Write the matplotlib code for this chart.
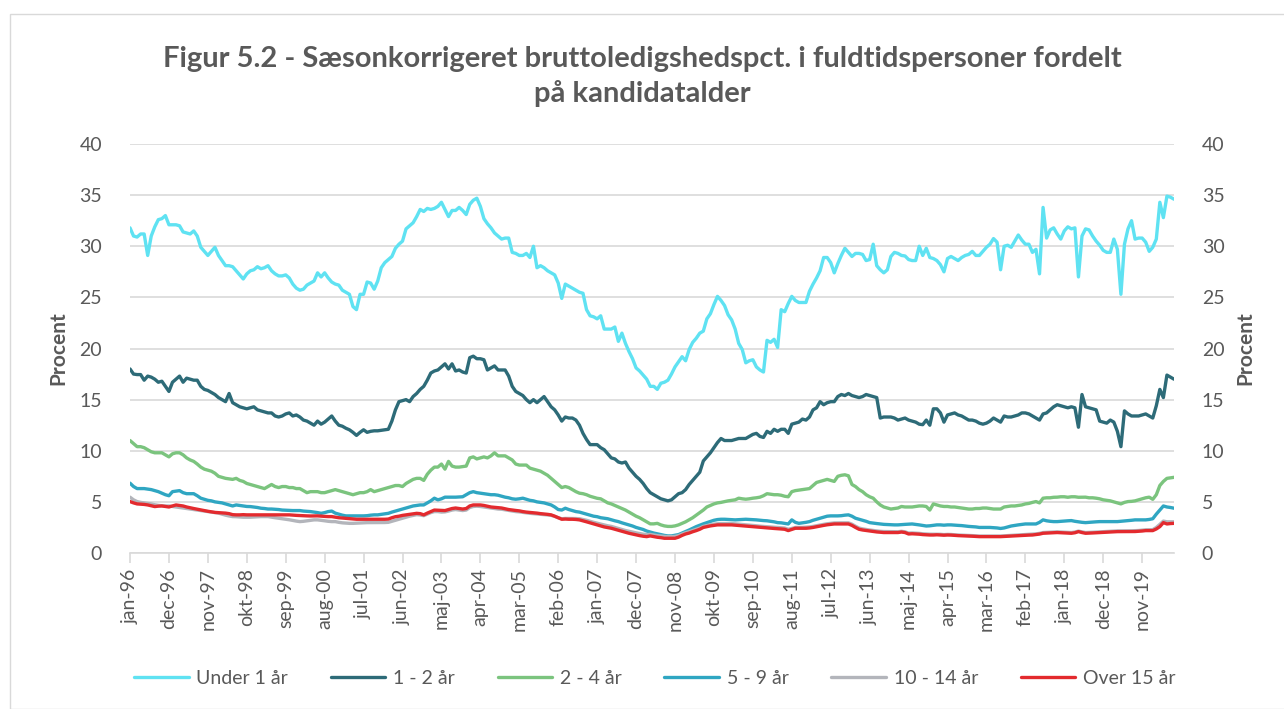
import matplotlib
matplotlib.use("Agg")
import matplotlib.pyplot as plt
from matplotlib.patches import Rectangle

plt.rcParams['font.family'] = ['Lato', 'DejaVu Sans']

# monthly values, jan-96 .. aug-20
under_1 = [
    31.8, 31.0, 30.9, 31.2, 31.2, 29.1, 31.0, 31.9, 32.6, 32.7, 33.0, 32.1, 32.1, 32.1, 32.0, 31.4,
    31.3, 31.2, 31.5, 31.0, 29.9, 29.5, 29.1, 29.5, 29.9, 29.1, 28.6, 28.1, 28.1, 28.0, 27.6, 27.2,
    26.8, 27.3, 27.6, 27.7, 28.0, 27.8, 27.9, 28.1, 27.6, 27.3, 27.1, 27.1, 27.2, 26.9, 26.3, 25.9,
    25.7, 25.8, 26.2, 26.4, 26.6, 27.4, 27.0, 27.4, 26.9, 26.5, 26.3, 26.2, 25.7, 25.5, 25.3, 24.1,
    23.8, 25.3, 25.3, 26.5, 26.4, 25.8, 26.6, 27.9, 28.4, 28.7, 29.0, 29.8, 30.2, 30.5, 31.7, 32.0,
    32.3, 32.9, 33.6, 33.4, 33.7, 33.6, 33.7, 33.9, 34.3, 33.6, 32.9, 33.5, 33.5, 33.8, 33.5, 33.1,
    34.1, 34.5, 34.7, 33.9, 32.7, 32.2, 31.8, 31.3, 31.0, 30.7, 30.8, 30.8, 29.4, 29.3, 29.1, 29.1,
    29.3, 28.9, 30.0, 27.9, 28.1, 27.9, 27.6, 27.4, 27.2, 26.4, 24.9, 26.3, 26.1, 25.9, 25.7, 25.5,
    25.4, 23.8, 23.2, 23.1, 22.9, 23.2, 21.9, 21.9, 21.9, 22.1, 20.7, 21.5, 20.5, 19.7, 19.0, 18.1,
    17.8, 17.4, 17.0, 16.3, 16.3, 16.0, 16.6, 16.7, 16.9, 17.5, 18.2, 18.7, 19.2, 18.8, 19.9, 20.6,
    21.0, 21.5, 21.7, 22.9, 23.4, 24.3, 25.1, 24.7, 24.2, 23.3, 22.8, 21.9, 20.5, 19.9, 18.6, 18.8,
    18.9, 18.2, 17.9, 17.7, 20.8, 20.6, 20.9, 20.1, 23.8, 23.6, 24.4, 25.1, 24.7, 24.5, 24.5, 24.5,
    25.6, 26.3, 26.9, 27.6, 28.9, 28.9, 28.4, 27.4, 28.3, 29.1, 29.8, 29.4, 29.0, 29.3, 29.3, 29.2,
    28.6, 28.7, 30.2, 28.1, 27.7, 27.4, 27.7, 29.0, 29.4, 29.3, 29.1, 29.05, 28.7, 28.6, 28.6, 30.0,
    29.1, 29.8, 28.9, 28.8, 28.6, 28.2, 27.5, 28.8, 29.0, 28.8, 28.6, 28.9, 29.1, 29.2, 29.5, 29.1,
    29.1, 29.5, 29.9, 30.2, 30.75, 30.4, 27.7, 30.0, 30.1, 29.9, 30.5, 31.1, 30.6, 30.2, 30.2, 29.4,
    29.7, 27.3, 33.8, 30.8, 31.6, 31.8, 31.2, 30.7, 31.5, 31.9, 31.7, 31.8, 27.0, 31.0, 31.7, 31.6,
    31.0, 30.5, 30.1, 29.6, 29.4, 29.4, 30.7, 29.7, 25.3, 30.2, 31.7, 32.5, 30.7, 30.8, 30.8, 30.4,
    29.5, 29.9, 30.7, 34.3, 32.8, 34.9, 34.8, 34.6,
]

aar_1_2 = [
    18.0, 17.5, 17.45, 17.45, 16.9, 17.3, 17.2, 17.0, 16.7, 16.8, 16.3, 15.8, 16.7, 17.0, 17.3, 16.7,
    17.1, 17.0, 16.9, 16.9, 16.3, 16.0, 15.9, 15.7, 15.5, 15.2, 15.0, 14.8, 15.6, 14.7, 14.5, 14.3,
    14.2, 14.1, 14.2, 14.3, 14.0, 13.9, 13.8, 13.7, 13.7, 13.4, 13.3, 13.4, 13.6, 13.7, 13.4, 13.5,
    13.3, 13.0, 12.9, 12.7, 12.5, 12.9, 12.6, 12.8, 13.1, 13.4, 12.9, 12.5, 12.4, 12.2, 12.05, 11.8,
    11.5, 11.8, 12.05, 11.8, 11.9, 11.95, 11.95, 12.0, 12.05, 12.1, 12.9, 14.0, 14.8, 14.9, 15.0, 14.8,
    15.3, 15.6, 16.0, 16.3, 16.9, 17.6, 17.8, 17.9, 18.2, 18.5, 18.0, 18.5, 17.8, 17.9, 17.7, 17.6,
    19.1, 19.25, 19.0, 19.0, 18.9, 17.9, 18.1, 18.3, 17.9, 17.9, 17.9, 17.3, 16.3, 15.8, 15.6, 15.4,
    15.0, 14.7, 15.0, 14.7, 15.0, 15.3, 14.8, 14.3, 14.0, 13.5, 12.9, 13.3, 13.2, 13.2, 13.0, 12.5,
    11.7, 11.1, 10.6, 10.6, 10.6, 10.3, 10.1, 9.7, 9.3, 9.2, 8.9, 8.8, 8.9, 8.3, 7.9, 7.5,
    7.2, 6.8, 6.3, 5.9, 5.7, 5.5, 5.3, 5.2, 5.1, 5.2, 5.5, 5.8, 5.9, 6.2, 6.7, 7.1,
    7.5, 7.9, 9.0, 9.4, 9.8, 10.3, 10.8, 11.2, 11.0, 11.0, 11.0, 11.1, 11.2, 11.2, 11.2, 11.4,
    11.6, 11.7, 11.4, 11.3, 11.9, 11.7, 12.1, 11.9, 12.1, 12.1, 11.7, 12.6, 12.7, 12.8, 13.1, 13.0,
    13.3, 14.0, 14.2, 14.8, 14.5, 14.7, 14.8, 14.8, 15.3, 15.5, 15.4, 15.6, 15.4, 15.3, 15.2, 15.3,
    15.5, 15.4, 15.3, 15.2, 13.2, 13.3, 13.3, 13.3, 13.2, 13.0, 13.1, 13.2, 13.0, 12.9, 12.8, 12.6,
    12.55, 13.0, 12.5, 14.1, 14.1, 13.7, 12.8, 13.5, 13.6, 13.7, 13.5, 13.4, 13.2, 13.0, 13.0, 12.9,
    12.7, 12.6, 12.7, 12.9, 13.2, 13.0, 12.8, 13.4, 13.3, 13.3, 13.4, 13.5, 13.7, 13.7, 13.6, 13.4,
    13.2, 13.0, 13.6, 13.7, 14.0, 14.3, 14.5, 14.4, 14.3, 14.2, 14.3, 14.2, 12.3, 15.5, 14.3, 14.2,
    14.1, 14.0, 12.9, 12.8, 12.7, 13.0, 12.8, 11.9, 10.4, 13.9, 13.6, 13.4, 13.4, 13.4, 13.5, 13.6,
    13.4, 13.2, 14.4, 16.0, 15.2, 17.4, 17.2, 17.0,
]

aar_2_4 = [
    11.0, 10.7, 10.4, 10.4, 10.3, 10.1, 9.9, 9.8, 9.8, 9.8, 9.6, 9.4, 9.7, 9.8, 9.8, 9.6,
    9.3, 9.1, 8.96, 8.7, 8.4, 8.2, 8.1, 8.0, 7.8, 7.5, 7.4, 7.3, 7.25, 7.2, 7.3, 7.1,
    7.0, 6.8, 6.7, 6.6, 6.5, 6.4, 6.3, 6.5, 6.7, 6.5, 6.4, 6.5, 6.5, 6.4, 6.4, 6.3,
    6.3, 6.1, 5.9, 6.0, 6.0, 6.0, 5.9, 5.9, 6.0, 6.1, 6.2, 6.1, 6.0, 5.9, 5.8, 5.7,
    5.8, 5.9, 5.9, 6.0, 6.2, 6.0, 6.1, 6.2, 6.3, 6.4, 6.5, 6.6, 6.6, 6.5, 6.8, 7.0,
    7.2, 7.3, 7.3, 7.1, 7.7, 8.1, 8.4, 8.4, 8.7, 8.2, 8.96, 8.5, 8.4, 8.4, 8.45, 8.5,
    9.3, 9.4, 9.2, 9.3, 9.4, 9.3, 9.5, 9.8, 9.5, 9.5, 9.5, 9.3, 9.1, 8.7, 8.6, 8.6,
    8.6, 8.3, 8.2, 8.1, 8.0, 7.8, 7.6, 7.3, 7.0, 6.7, 6.4, 6.5, 6.4, 6.2, 6.0, 5.85,
    5.8, 5.7, 5.55, 5.45, 5.35, 5.3, 5.1, 4.9, 4.8, 4.65, 4.5, 4.35, 4.2, 4.0, 3.8, 3.6,
    3.45, 3.25, 3.05, 2.85, 2.85, 2.9, 2.75, 2.65, 2.6, 2.6, 2.65, 2.75, 2.9, 3.05, 3.25, 3.45,
    3.7, 3.95, 4.2, 4.5, 4.65, 4.8, 4.9, 4.95, 5.03, 5.1, 5.15, 5.2, 5.36, 5.3, 5.26, 5.3,
    5.36, 5.4, 5.46, 5.6, 5.8, 5.75, 5.7, 5.7, 5.65, 5.55, 5.5, 6.0, 6.1, 6.15, 6.2, 6.25,
    6.3, 6.6, 6.9, 7.0, 7.1, 7.2, 7.1, 7.0, 7.5, 7.6, 7.65, 7.55, 6.7, 6.5, 6.2, 6.0,
    5.7, 5.5, 5.36, 5.0, 4.7, 4.5, 4.4, 4.3, 4.35, 4.4, 4.55, 4.5, 4.5, 4.5, 4.55, 4.6,
    4.6, 4.55, 4.2, 4.8, 4.7, 4.6, 4.55, 4.55, 4.5, 4.5, 4.45, 4.4, 4.35, 4.3, 4.3, 4.35,
    4.35, 4.4, 4.4, 4.35, 4.3, 4.3, 4.3, 4.5, 4.55, 4.6, 4.6, 4.65, 4.7, 4.8, 4.85, 4.95,
    5.03, 4.9, 5.36, 5.4, 5.4, 5.45, 5.46, 5.5, 5.5, 5.45, 5.5, 5.5, 5.45, 5.45, 5.46, 5.4,
    5.4, 5.36, 5.3, 5.2, 5.15, 5.1, 5.0, 4.9, 4.8, 4.95, 5.03, 5.05, 5.1, 5.2, 5.3, 5.4,
    5.46, 5.25, 5.7, 6.6, 7.0, 7.3, 7.35, 7.4,
]

aar_5_9 = [
    6.83, 6.5, 6.3, 6.3, 6.3, 6.25, 6.2, 6.1, 6.0, 5.85, 5.7, 5.6, 6.0, 6.05, 6.1, 5.9,
    5.8, 5.8, 5.8, 5.6, 5.36, 5.25, 5.15, 5.1, 5.0, 4.95, 4.9, 4.8, 4.7, 4.6, 4.7, 4.65,
    4.6, 4.55, 4.54, 4.5, 4.45, 4.38, 4.35, 4.3, 4.3, 4.28, 4.25, 4.2, 4.18, 4.15, 4.15, 4.15,
    4.15, 4.1, 4.08, 4.05, 4.0, 3.95, 3.88, 3.95, 4.05, 4.1, 3.9, 3.8, 3.7, 3.63, 3.63, 3.63,
    3.63, 3.63, 3.63, 3.65, 3.7, 3.73, 3.73, 3.78, 3.82, 3.88, 4.0, 4.1, 4.2, 4.3, 4.4, 4.5,
    4.6, 4.65, 4.7, 4.7, 4.9, 5.1, 5.36, 5.2, 5.3, 5.46, 5.46, 5.46, 5.46, 5.48, 5.5, 5.7,
    5.9, 6.0, 5.9, 5.85, 5.8, 5.75, 5.7, 5.7, 5.65, 5.55, 5.46, 5.4, 5.3, 5.26, 5.3, 5.36,
    5.25, 5.15, 5.1, 5.0, 4.95, 4.9, 4.8, 4.7, 4.5, 4.25, 4.2, 4.38, 4.25, 4.15, 4.05, 4.0,
    3.9, 3.8, 3.7, 3.6, 3.55, 3.45, 3.4, 3.35, 3.25, 3.15, 3.07, 2.95, 2.85, 2.75, 2.64, 2.5,
    2.4, 2.3, 2.15, 2.05, 1.95, 1.88, 1.8, 1.72, 1.67, 1.67, 1.74, 1.8, 1.95, 2.09, 2.25, 2.42,
    2.58, 2.72, 2.85, 2.97, 3.1, 3.2, 3.27, 3.3, 3.3, 3.28, 3.25, 3.24, 3.26, 3.28, 3.3, 3.28,
    3.26, 3.24, 3.2, 3.17, 3.15, 3.1, 3.05, 2.97, 2.95, 2.9, 2.84, 3.24, 3.0, 2.9, 2.95, 3.0,
    3.07, 3.2, 3.3, 3.4, 3.5, 3.6, 3.63, 3.63, 3.63, 3.65, 3.7, 3.73, 3.6, 3.4, 3.3, 3.2,
    3.1, 2.97, 2.92, 2.88, 2.84, 2.8, 2.78, 2.75, 2.75, 2.75, 2.78, 2.8, 2.82, 2.84, 2.8, 2.75,
    2.7, 2.64, 2.66, 2.7, 2.75, 2.75, 2.72, 2.75, 2.75, 2.72, 2.7, 2.68, 2.64, 2.6, 2.58, 2.55,
    2.5, 2.5, 2.5, 2.5, 2.48, 2.45, 2.4, 2.45, 2.55, 2.64, 2.7, 2.75, 2.8, 2.84, 2.84, 2.84,
    2.84, 3.0, 3.24, 3.15, 3.1, 3.07, 3.07, 3.1, 3.12, 3.15, 3.17, 3.1, 3.05, 3.0, 2.97, 3.0,
    3.02, 3.05, 3.07, 3.07, 3.07, 3.07, 3.07, 3.07, 3.1, 3.12, 3.15, 3.2, 3.24, 3.24, 3.24, 3.24,
    3.28, 3.35, 3.8, 4.2, 4.6, 4.5, 4.45, 4.38,
]

aar_10_14 = [
    5.46, 5.2, 5.03, 4.95, 4.9, 4.85, 4.8, 4.72, 4.66, 4.62, 4.6, 4.6, 4.55, 4.5, 4.45, 4.4,
    4.35, 4.3, 4.25, 4.2, 4.15, 4.1, 4.05, 4.0, 3.95, 3.9, 3.8, 3.7, 3.62, 3.56, 3.55, 3.52,
    3.5, 3.5, 3.5, 3.52, 3.55, 3.56, 3.56, 3.56, 3.5, 3.45, 3.4, 3.35, 3.3, 3.25, 3.18, 3.12,
    3.07, 3.1, 3.15, 3.2, 3.24, 3.24, 3.2, 3.15, 3.1, 3.07, 3.07, 3.0, 2.95, 2.92, 2.9, 2.9,
    2.92, 2.95, 2.97, 2.97, 2.97, 2.97, 2.97, 2.97, 2.98, 3.0, 3.1, 3.2, 3.3, 3.4, 3.5, 3.6,
    3.68, 3.75, 3.72, 3.65, 3.8, 3.95, 4.05, 4.05, 4.0, 4.02, 4.1, 4.2, 4.25, 4.2, 4.15, 4.2,
    4.45, 4.55, 4.58, 4.55, 4.5, 4.45, 4.4, 4.35, 4.3, 4.28, 4.22, 4.15, 4.1, 4.05, 4.02, 3.97,
    3.92, 3.88, 3.85, 3.82, 3.78, 3.75, 3.72, 3.68, 3.58, 3.45, 3.35, 3.38, 3.38, 3.38, 3.37, 3.35,
    3.28, 3.2, 3.1, 3.0, 2.92, 2.83, 2.74, 2.66, 2.6, 2.5, 2.4, 2.3, 2.2, 2.12, 2.04, 1.97,
    1.9, 1.84, 1.8, 1.82, 1.76, 1.7, 1.66, 1.62, 1.6, 1.6, 1.62, 1.7, 1.85, 1.98, 2.08, 2.2,
    2.32, 2.44, 2.6, 2.68, 2.76, 2.82, 2.86, 2.88, 2.88, 2.88, 2.88, 2.85, 2.83, 2.8, 2.77, 2.73,
    2.7, 2.66, 2.62, 2.6, 2.57, 2.54, 2.52, 2.5, 2.47, 2.44, 2.32, 2.4, 2.5, 2.5, 2.5, 2.52,
    2.55, 2.6, 2.67, 2.74, 2.8, 2.86, 2.9, 2.94, 2.95, 2.95, 2.95, 2.95, 2.82, 2.62, 2.44, 2.36,
    2.3, 2.25, 2.2, 2.16, 2.12, 2.1, 2.1, 2.09, 2.08, 2.08, 2.12, 2.07, 1.95, 1.96, 1.94, 1.92,
    1.88, 1.86, 1.84, 1.84, 1.85, 1.83, 1.8, 1.82, 1.81, 1.78, 1.76, 1.74, 1.73, 1.72, 1.7, 1.68,
    1.66, 1.66, 1.66, 1.66, 1.66, 1.66, 1.66, 1.68, 1.7, 1.72, 1.73, 1.76, 1.78, 1.8, 1.82, 1.83,
    1.87, 1.92, 2.0, 2.02, 2.04, 2.07, 2.07, 2.05, 2.03, 2.01, 2.0, 2.05, 2.14, 2.07, 2.0, 2.01,
    2.03, 2.05, 2.07, 2.09, 2.11, 2.13, 2.15, 2.16, 2.16, 2.16, 2.17, 2.17, 2.18, 2.2, 2.23, 2.27,
    2.27, 2.28, 2.5, 2.8, 3.12, 3.05, 3.05, 3.05,
]

over_15 = [
    5.03, 4.9, 4.8, 4.78, 4.75, 4.7, 4.62, 4.54, 4.58, 4.6, 4.55, 4.5, 4.6, 4.7, 4.65, 4.6,
    4.5, 4.42, 4.35, 4.28, 4.2, 4.15, 4.08, 4.02, 3.97, 3.95, 3.92, 3.9, 3.85, 3.75, 3.73, 3.73,
    3.75, 3.73, 3.73, 3.73, 3.72, 3.74, 3.73, 3.73, 3.72, 3.73, 3.74, 3.73, 3.72, 3.73, 3.7, 3.68,
    3.66, 3.63, 3.63, 3.62, 3.63, 3.63, 3.6, 3.58, 3.56, 3.56, 3.5, 3.45, 3.42, 3.4, 3.36, 3.32,
    3.3, 3.3, 3.3, 3.3, 3.3, 3.3, 3.3, 3.31, 3.3, 3.32, 3.45, 3.55, 3.6, 3.68, 3.73, 3.78,
    3.82, 3.88, 3.85, 3.73, 3.9, 4.05, 4.2, 4.18, 4.15, 4.15, 4.25, 4.35, 4.4, 4.35, 4.3, 4.35,
    4.6, 4.7, 4.7, 4.7, 4.65, 4.58, 4.5, 4.47, 4.43, 4.4, 4.32, 4.25, 4.2, 4.16, 4.12, 4.05,
    4.0, 3.97, 3.93, 3.9, 3.85, 3.82, 3.78, 3.73, 3.6, 3.45, 3.3, 3.32, 3.3, 3.3, 3.28, 3.24,
    3.15, 3.05, 2.95, 2.84, 2.75, 2.65, 2.55, 2.48, 2.42, 2.32, 2.22, 2.12, 2.02, 1.93, 1.85, 1.78,
    1.7, 1.64, 1.6, 1.67, 1.6, 1.54, 1.5, 1.44, 1.44, 1.44, 1.44, 1.55, 1.72, 1.86, 1.95, 2.08,
    2.19, 2.32, 2.5, 2.58, 2.65, 2.7, 2.75, 2.75, 2.75, 2.75, 2.75, 2.72, 2.7, 2.67, 2.64, 2.6,
    2.57, 2.53, 2.5, 2.48, 2.45, 2.42, 2.4, 2.38, 2.35, 2.32, 2.19, 2.3, 2.42, 2.42, 2.42, 2.42,
    2.45, 2.5, 2.57, 2.64, 2.7, 2.76, 2.8, 2.84, 2.84, 2.84, 2.84, 2.84, 2.7, 2.5, 2.32, 2.25,
    2.2, 2.15, 2.09, 2.06, 2.03, 2.0, 2.0, 2.0, 2.0, 2.0, 2.05, 2.0, 1.86, 1.88, 1.86, 1.84,
    1.8, 1.78, 1.76, 1.76, 1.78, 1.76, 1.74, 1.76, 1.75, 1.72, 1.7, 1.68, 1.67, 1.66, 1.64, 1.62,
    1.6, 1.6, 1.6, 1.6, 1.6, 1.6, 1.6, 1.62, 1.64, 1.66, 1.67, 1.7, 1.72, 1.74, 1.75, 1.76,
    1.8, 1.85, 1.93, 1.95, 1.97, 2.0, 2.0, 1.98, 1.96, 1.94, 1.93, 1.98, 2.09, 2.0, 1.93, 1.94,
    1.96, 1.98, 2.0, 2.02, 2.04, 2.06, 2.08, 2.09, 2.09, 2.09, 2.09, 2.09, 2.1, 2.12, 2.15, 2.19,
    2.19, 2.19, 2.35, 2.58, 2.97, 2.84, 2.88, 2.9,
]

tick_labels = [
    "jan-96", "dec-96", "nov-97", "okt-98", "sep-99", "aug-00", "jul-01", "jun-02", "maj-03",
    "apr-04", "mar-05", "feb-06", "jan-07", "dec-07", "nov-08", "okt-09", "sep-10", "aug-11",
    "jul-12", "jun-13", "maj-14", "apr-15", "mar-16", "feb-17", "jan-18", "dec-18", "nov-19",
]

series = [
    ("Under 1 år", under_1, "#5FE2F2"),
    ("1 - 2 år", aar_1_2, "#2D6B78"),
    ("2 - 4 år", aar_2_4, "#7BC47E"),
    ("5 - 9 år", aar_5_9, "#2FA6C2"),
    ("10 - 14 år", aar_10_14, "#B3B5BB"),
    ("Over 15 år", over_15, "#E32A2E"),
]

txt = "#595959"
grid_col = "#D9D9D9"

fig = plt.figure(figsize=(12.84, 7.09), dpi=100)
fig.patches.append(Rectangle((10 / 1284, 0.0), 1.0, 1 - 14 / 709, transform=fig.transFigure,
                             fill=False, edgecolor=grid_col, linewidth=1))

ax = fig.add_axes([130 / 1284, 1 - 553 / 709, (1174 - 130) / 1284, (553 - 144) / 709])
n = len(under_1)
x = list(range(n))
for name, vals, col in series:
    ax.plot(x, vals, color=col, linewidth=2.4, label=name, solid_capstyle="round")

ax.set_xlim(0, n - 1)
ax.set_ylim(0, 40)
ax.set_yticks(range(0, 41, 5))
ax.grid(axis="y", color=grid_col, linewidth=1.2)
ax.set_axisbelow(True)
for s in ["top", "right", "left"]:
    ax.spines[s].set_visible(False)
ax.spines["bottom"].set_color(grid_col)
ax.spines["bottom"].set_linewidth(1.2)

ax.set_xticks(range(0, n, 11))
ax.set_xticklabels(tick_labels, rotation=90)
ax.tick_params(axis="x", length=7, color=grid_col, width=1.2, labelsize=14, labelcolor=txt, pad=4)
ax.tick_params(axis="y", length=0, labelsize=14, labelcolor=txt, pad=20)

ax2 = ax.twinx()
ax2.set_ylim(0, 40)
ax2.set_yticks(range(0, 41, 5))
for s in ["top", "right", "left", "bottom"]:
    ax2.spines[s].set_visible(False)
ax2.tick_params(axis="y", length=0, labelsize=14, labelcolor=txt, pad=20)

ax.set_ylabel("Procent", fontsize=15, fontweight="bold", color=txt, labelpad=8)
ax2.set_ylabel("Procent", fontsize=15, fontweight="bold", color=txt, labelpad=8)

fig.suptitle("Figur 5.2 - Sæsonkorrigeret bruttoledigshedspct. i fuldtidspersoner fordelt\npå kandidatalder",
             fontsize=21, fontweight="bold", color=txt, y=1 - 46 / 709, va="top", linespacing=1.35)

fig.legend(loc="center", bbox_to_anchor=(0.51, 1 - 678 / 709), ncol=6, frameon=False,
           fontsize=14, labelcolor=txt, handlelength=2.8, columnspacing=2.2, handletextpad=0.4)

fig.savefig("out.png", dpi=100)
